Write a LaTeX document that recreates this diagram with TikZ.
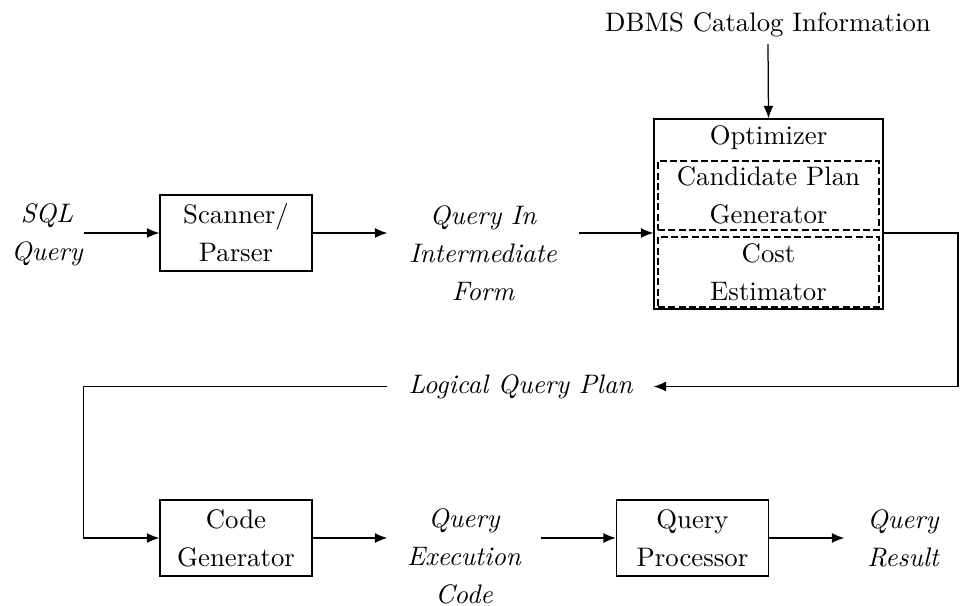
\documentclass[tikz,border=0pt]{standalone}
\usetikzlibrary{arrows.meta}
\begin{document}
\begin{tikzpicture}[x=0.4pt,y=-0.4pt,line width=0.5pt,
  >={Latex[length=5pt,width=4pt]},
  every node/.style={font=\fontsize{10.7pt}{15.2pt}\selectfont},
  stage/.style={draw, minimum width=60.8pt, minimum height=30.4pt, inner sep=0pt,
    align=center},
  part/.style={draw, dash pattern=on 2.8pt off 1.3pt, minimum width=88.4pt, inner sep=0pt,
    align=center},
  data/.style={inner sep=0pt, align=center,
    font=\fontsize{10.7pt}{15.2pt}\selectfont\itshape},
  flow/.style={->}]
\useasboundingbox (0,0) rectangle (960,606);

% top row
\node[data, minimum width=28.8pt] (sql) at (47,234.6) {SQL\\Query};
\node[stage] (sp) at (236,233) {Scanner/\\Parser};
\node[data, minimum width=76pt] (qi) at (483,253) {Query In\\Intermediate\\Form};

% optimizer with its two parts
\node[draw, minimum width=91.6pt, minimum height=76pt, inner sep=0pt] (opt) at (768.5,214) {};
\node[inner sep=0pt] (optlbl) at (768.5,138) {Optimizer};
\node[part, minimum height=27.6pt] (cpg) at (768.5,195.5) {Candidate Plan\\Generator};
\node[part, minimum height=28pt] (ce) at (768.5,272) {Cost\\Estimator};
\node[inner xsep=0pt, inner ysep=2.4pt] (dbms) at (768,25) {DBMS Catalog Information};

% middle
\node[data, minimum width=106pt] (lqp) at (520.5,386.5) {Logical Query Plan};
\coordinate (turnR) at (958,386.5);
\coordinate (turnL) at (83.3,386.5);

% bottom row
\node[stage] (cg) at (236,538) {Code\\Generator};
\node[data, minimum width=60.8pt] (qec) at (464,556) {Query\\Execution\\Code};
\node[stage] (qp) at (692.5,538) {Query\\Processor};
\node[data, minimum width=46.4pt] (qr) at (903,538) {Query\\Result};

% connectors
\draw[flow] (dbms.south) -- (opt.north);
\draw[flow] (sp.west -| sql.east) -- (sp.west);
\draw[flow] (sp.east) -- (sp.east -| qi.west);
\draw[flow] (sp.east -| qi.east) -- (sp.east -| opt.west);
\draw[flow] (sp.east -| opt.east) -- (sp.east -| turnR) -- (turnR) -- (lqp.east);
\draw[flow] (lqp.west) -- (turnL) -- (turnL |- cg.west) -- (cg.west);
\draw[flow] (cg.east) -- (cg.east -| qec.west);
\draw[flow] (cg.east -| qec.east) -- (qp.west);
\draw[flow] (qp.east) -- (qp.east -| qr.west);
\end{tikzpicture}
\end{document}
